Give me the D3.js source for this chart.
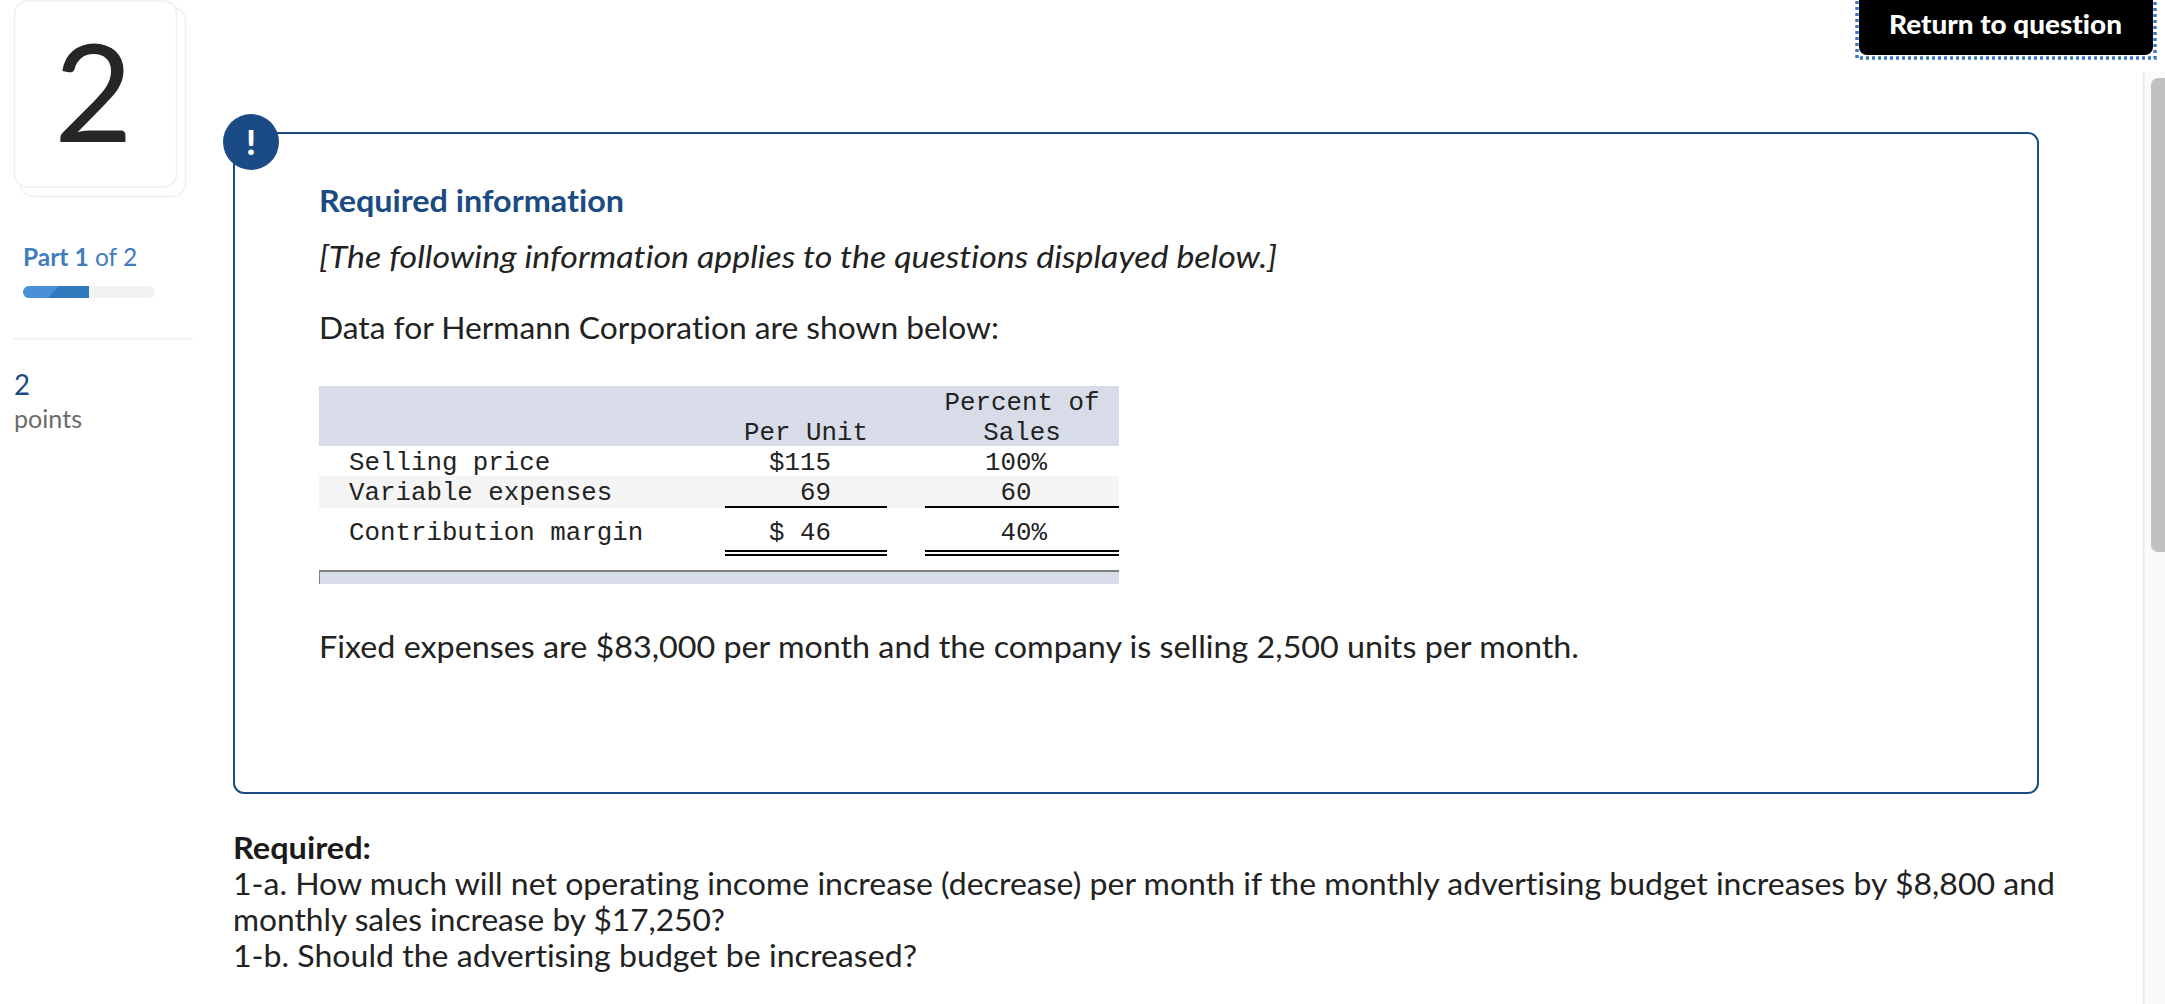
<!DOCTYPE html>
<html>
<head>
<meta charset="utf-8">
<script src="https://d3js.org/d3.v7.min.js"></script>
<style>
  html, body { margin: 0; padding: 0; background: #fff; overflow: hidden; }
  svg { display: block; }
  text { font-family: Lato, "Open Sans", sans-serif; font-variant-ligatures: none; }
  .mono { font-family: "Liberation Mono", monospace; font-size: 25.8px; fill: #222; white-space: pre; }
</style>
</head>
<body>
<div id="main"></div>
<script>
const width = 2165;
const height = 1004;

// table values
const tableHeaders = [
  ["", "", "Percent of"],
  ["", "Per Unit", "Sales"],
];
const rowLabels = ["Selling price", "Variable expenses", "Contribution margin"];
const perUnit = ["$115", "69", "$ 46"];
const percentOfSales = ["100%", "60 ", "40%"];

const questionNumber = "2";
const partsDone = 1;
const partsTotal = 2;
const points = "2";

const infoLines = [
  { text: "Data for Hermann Corporation are shown below:", y: 339, w: 680 },
  { text: "Fixed expenses are $83,000 per month and the company is selling 2,500 units per month.", y: 658, w: 1260 },
];
const requiredLines = [
  { text: "1-a. How much will net operating income increase (decrease) per month if the monthly advertising budget increases by $8,800 and", y: 895, w: 1822 },
  { text: "monthly sales increase by $17,250?", y: 931, w: 492 },
  { text: "1-b. Should the advertising budget be increased?", y: 967, w: 684 },
];

const navy = "#1b4b84";
const ink = "#222";
const band = "#d8dce8";

const svg = d3.select("#main").append("svg").attr("width", width).attr("height", height);

const addRect = (x, y, w, h, fill, rx = 0) =>
  svg.append("rect").attr("x", x).attr("y", y).attr("width", w).attr("height", h).attr("rx", rx).attr("fill", fill);

const addText = (str, x, y, size, fill, w) => {
  const t = svg.append("text").attr("x", x).attr("y", y).attr("font-size", size).attr("fill", fill).text(str);
  if (w) t.attr("textLength", w).attr("lengthAdjust", "spacingAndGlyphs");
  return t;
};

// question card, the back one first
svg.append("rect").attr("x", 20.5).attr("y", 7.5).attr("width", 165).attr("height", 189).attr("rx", 13)
  .attr("fill", "#fff").attr("stroke", "#f0f0f0").attr("stroke-width", 1.5);
svg.append("rect").attr("x", 14.5).attr("y", 1).attr("width", 162).attr("height", 186).attr("rx", 13)
  .attr("fill", "#fff").attr("stroke", "#efefef").attr("stroke-width", 1.5);
addText(questionNumber, 54, 142, 136, "#262626").attr("font-weight", 400);

// part progress
const partText = addText("", 23, 266, 24.5, "#3f7cc0");
partText.append("tspan").attr("font-weight", 700).text(`Part ${partsDone}`);
partText.append("tspan").text(` of ${partsTotal}`);

const progressX = d3.scaleLinear().domain([0, partsTotal]).range([23, 155]);
addRect(progressX(0), 286, progressX(partsTotal) - progressX(0), 12, "#f2f2f2", 6);
svg.append("path")
  .attr("d", `M${progressX(partsDone)},286 H${progressX(0) + 6} a6,6 0 0 0 0,12 H${progressX(partsDone)} Z`)
  .attr("fill", "#4a90d9");
svg.append("path")
  .attr("d", `M59,286 H${progressX(partsDone)} V298 H48 Z`)
  .attr("fill", "#2f79bd");

addRect(13, 338, 180, 1.5, "#efefef");
addText(points, 14, 395, 28, navy, 16);
addText("points", 14, 428, 24.5, "#6a6a6a", 68);

// info panel
svg.append("rect").attr("x", 234).attr("y", 133).attr("width", 1804).attr("height", 660).attr("rx", 10)
  .attr("fill", "#fff").attr("stroke", navy).attr("stroke-width", 2);
svg.append("circle").attr("cx", 251).attr("cy", 142).attr("r", 28).attr("fill", navy);
addText("!", 251, 155, 35, "#fff").attr("font-weight", 900).attr("text-anchor", "middle");

addText("Required information", 319, 212, 31, navy, 305).attr("font-weight", 700);
addText("[The following information applies to the questions displayed below.]", 319, 268, 30, ink, 958)
  .attr("font-style", "italic");
svg.selectAll(".info").data(infoLines).join("text").attr("class", "info")
  .attr("x", 319).attr("y", (d) => d.y).attr("font-size", 30).attr("fill", ink)
  .attr("textLength", (d) => d.w).attr("lengthAdjust", "spacingAndGlyphs")
  .text((d) => d.text);

// table
addRect(319, 386, 800, 60, band);
addRect(319, 476, 800, 32, "#f5f5f5");
addRect(319, 570, 800, 14, band);
addRect(319, 570, 800, 2, "#808080");
addRect(319, 570, 1, 14, "#808080");

const headerY = d3.scaleOrdinal().domain([0, 1]).range([410, 440]);
const rowY = d3.scaleOrdinal().domain(rowLabels).range([470, 500, 540]);

tableHeaders.forEach((row, i) => {
  svg.selectAll(`.head${i}`).data(row.slice(1)).join("text").attr("class", `mono head${i}`)
    .attr("x", (d, j) => [806, 1022][j]).attr("y", headerY(i))
    .attr("text-anchor", "middle").text((d) => d);
});
svg.selectAll(".label").data(rowLabels).join("text").attr("class", "mono label")
  .attr("x", 349).attr("y", (d) => rowY(d)).text((d) => d);
svg.selectAll(".unit").data(perUnit).join("text").attr("class", "mono unit")
  .attr("x", 831).attr("y", (d, i) => rowY(rowLabels[i])).attr("text-anchor", "end").text((d) => d);
svg.selectAll(".pct").data(percentOfSales).join("text").attr("class", "mono pct")
  .attr("x", 1047).attr("y", (d, i) => rowY(rowLabels[i])).attr("text-anchor", "end").text((d) => d);

[[725, 162], [925, 194]].forEach(([x, w]) => {
  addRect(x, 506, w, 2, "#000");
  addRect(x, 550, w, 2, "#000");
  addRect(x, 554, w, 2, "#000");
});

// required block
addText("Required:", 233, 859, 29.5, "#1a1a1a", 138).attr("font-weight", 700);
svg.selectAll(".req").data(requiredLines).join("text").attr("class", "req")
  .attr("x", 233).attr("y", (d) => d.y).attr("font-size", 30).attr("fill", ink)
  .attr("textLength", (d) => d.w).attr("lengthAdjust", "spacingAndGlyphs")
  .text((d) => d.text);

// scrollbar
addRect(2143, 72, 22, height - 72, "#fafafa");
addRect(2143, 72, 1.5, height - 72, "#e8e8e8");
addRect(2151, 78, 20, 474, "#c1c1c1", 7);

// return button
svg.append("rect").attr("x", 1857).attr("y", -6).attr("width", 298).attr("height", 64)
  .attr("fill", "none").attr("stroke", "#3b78c0").attr("stroke-width", 3.5).attr("stroke-dasharray", "3 3");
addRect(1859, -10, 294, 65, "#000", 8);
addText("Return to question", 1889, 34, 27, "#fff", 233).attr("font-weight", 900);
</script>
</body>
</html>
